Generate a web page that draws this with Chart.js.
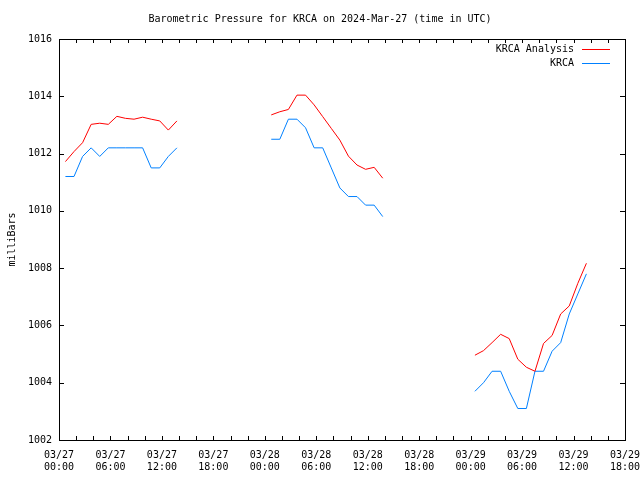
<!DOCTYPE html>
<html>
<head>
<meta charset="utf-8">
<script src="https://cdn.jsdelivr.net/npm/chart.js@4.4.1/dist/chart.umd.min.js"></script>
<style>
html, body { margin: 0; padding: 0; background: #fff; }
#wrap { width: 640px; height: 480px; }
</style>
</head>
<body>
<div id="wrap"><canvas id="baroChart" width="640" height="480"></canvas></div>
<script>
// -----------------------------
// Data (hours since 03/27 00:00 UTC, null = gap)
// -----------------------------
const obsHours = [
    0.75, 1.75, 2.75, 3.75, 4.75, 5.75, 6.75, 7.75, 8.75, 9.75, 10.75, 11.75, 12.75, 13.75,
    19,
    24.75, 25.75, 26.75, 27.75, 28.75, 29.75, 30.75, 31.75, 32.75, 33.75, 34.75, 35.75, 36.75, 37.75,
    43,
    48.5, 49.5, 50.5, 51.5, 52.5, 53.5, 54.5, 55.5, 56.5, 57.5, 58.5, 59.5, 60.5, 61.5
];

const analysisMb = [
    1011.72, 1012.07, 1012.38, 1013.02, 1013.06, 1013.02, 1013.30, 1013.23, 1013.20, 1013.27, 1013.20, 1013.14, 1012.82, 1013.14,
    null,
    1013.35, 1013.46, 1013.54, 1014.04, 1014.04, 1013.70, 1013.29, 1012.88, 1012.47, 1011.91, 1011.60, 1011.45, 1011.52, 1011.14,
    null,
    1004.96, 1005.12, 1005.40, 1005.69, 1005.54, 1004.82, 1004.54, 1004.40, 1005.37, 1005.65, 1006.40, 1006.68, 1007.47, 1008.17
];

const stationMb = [
    1011.2, 1011.2, 1011.9, 1012.2, 1011.9, 1012.2, 1012.2, 1012.2, 1012.2, 1012.2, 1011.5, 1011.5, 1011.9, 1012.2,
    null,
    1012.5, 1012.5, 1013.2, 1013.2, 1012.9, 1012.2, 1012.2, 1011.5, 1010.8, 1010.5, 1010.5, 1010.2, 1010.2, 1009.8,
    null,
    1003.7, 1004.0, 1004.4, 1004.4, 1003.7, 1003.1, 1003.1, 1004.4, 1004.4, 1005.1, 1005.4, 1006.4, 1007.1, 1007.8
];

const dayLabels = ["03/27", "03/28", "03/29"];
const seriesNames = ["KRCA Analysis", "KRCA"];
const seriesColors = ["#ff0000", "#0080ff"];

const FONT = { family: "'DejaVu Sans Mono', monospace", size: 10, weight: "normal" };

function toPoints(vals) {
    return obsHours.map((h, i) => ({ x: h, y: vals[i] }));
}

function xTickLabel(v) {
    const day = dayLabels[Math.floor(v / 24)];
    const hh = String(v % 24).padStart(2, "0");
    return [day, hh + ":00"];
}

// -----------------------------
// frame, inward ticks, legend (gnuplot look)
// -----------------------------
const gnuplotFrame = {
    id: "gnuplotFrame",
    afterDraw(chart) {
        const ctx = chart.ctx;
        const a = chart.chartArea;
        const xs = chart.scales.x;
        const ys = chart.scales.y;

        ctx.save();
        ctx.strokeStyle = "#000";
        ctx.lineWidth = 1;
        ctx.strokeRect(a.left + 0.5, a.top + 0.5, a.right - a.left, a.bottom - a.top);

        ctx.beginPath();
        for (let h = 0; h <= 66; h += 2) {
            const px = Math.round(xs.getPixelForValue(h)) + 0.5;
            ctx.moveTo(px, a.bottom);
            ctx.lineTo(px, a.bottom - 4);
            ctx.moveTo(px, a.top);
            ctx.lineTo(px, a.top + 4);
        }
        for (let v = 1002; v <= 1016; v += 2) {
            const py = Math.round(ys.getPixelForValue(v)) + 0.5;
            ctx.moveTo(a.left, py);
            ctx.lineTo(a.left + 5, py);
            ctx.moveTo(a.right, py);
            ctx.lineTo(a.right - 5, py);
        }
        ctx.stroke();

        // legend
        ctx.font = FONT.size + "px " + FONT.family;
        ctx.textAlign = "right";
        ctx.textBaseline = "middle";
        seriesNames.forEach((name, i) => {
            const y = Math.round(a.top + 10 + i * 13.5);
            ctx.fillStyle = "#000";
            ctx.fillText(name, a.right - 51, y);
            ctx.fillStyle = seriesColors[i];
            ctx.fillRect(a.right - 43, y, 28, 1);
        });
        ctx.restore();
    }
};

Chart.defaults.font.family = FONT.family;
Chart.defaults.font.size = FONT.size;
Chart.defaults.color = "#000";

new Chart(document.getElementById("baroChart"), {
    type: "line",
    data: {
        datasets: [
            {
                label: seriesNames[0],
                data: toPoints(analysisMb),
                borderColor: seriesColors[0],
                borderWidth: 1,
                pointRadius: 0,
                tension: 0,
                spanGaps: false
            },
            {
                label: seriesNames[1],
                data: toPoints(stationMb),
                borderColor: seriesColors[1],
                borderWidth: 1,
                pointRadius: 0,
                tension: 0,
                spanGaps: false
            }
        ]
    },
    options: {
        responsive: false,
        animation: false,
        layout: { padding: 0 },
        plugins: {
            legend: { display: false },
            tooltip: { enabled: false },
            title: {
                display: true,
                text: "Barometric Pressure for KRCA on 2024-Mar-27 (time in UTC)",
                font: FONT,
                color: "#000",
                padding: { top: 13, bottom: 14 }
            }
        },
        scales: {
            x: {
                type: "linear",
                min: 0,
                max: 66,
                grid: { display: false, drawTicks: false },
                border: { display: false },
                ticks: {
                    stepSize: 6,
                    maxRotation: 0,
                    autoSkip: false,
                    padding: 9,
                    font: FONT,
                    color: "#000",
                    callback: xTickLabel
                },
                afterFit(scale) {
                    scale.height = 40;
                    scale.paddingLeft = 0;
                    scale.paddingRight = 15;
                }
            },
            y: {
                min: 1002,
                max: 1016,
                grid: { display: false, drawTicks: false },
                border: { display: false },
                ticks: {
                    stepSize: 2,
                    padding: 7,
                    font: FONT,
                    color: "#000",
                    callback: (v) => String(v)
                },
                title: {
                    display: true,
                    text: "milliBars",
                    font: FONT,
                    color: "#000",
                    padding: { top: 6, bottom: 0 }
                },
                afterFit(scale) { scale.width = 59; }
            }
        }
    },
    plugins: [gnuplotFrame]
});
</script>
</body>
</html>
